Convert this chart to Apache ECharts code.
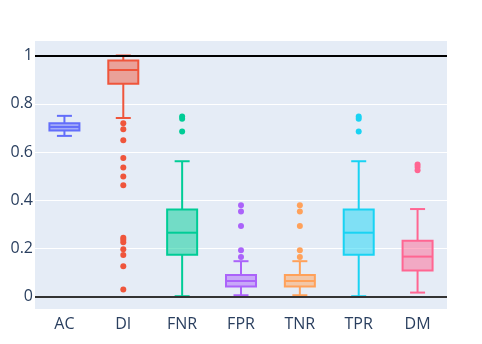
<!DOCTYPE html>
<html>
<head>
<meta charset="utf-8">
<script src="https://cdn.jsdelivr.net/npm/echarts@6/dist/echarts.min.js"></script>
<style>
  html, body { margin: 0; padding: 0; background: #fff; }
  #main { width: 482px; height: 344px; }
</style>
</head>
<body>
<div id="main"></div>
<script>
// categories and box statistics
var categories = ['AC', 'DI', 'FNR', 'FPR', 'TNR', 'TPR', 'DM'];
var whiskerLow  = [0.667, 0.741, 0.003, 0.007, 0.007, 0.003, 0.018];
var q1          = [0.689, 0.883, 0.175, 0.043, 0.043, 0.175, 0.109];
var median      = [0.704, 0.940, 0.266, 0.066, 0.066, 0.266, 0.167];
var q3          = [0.719, 0.979, 0.362, 0.091, 0.091, 0.362, 0.233];
var whiskerHigh = [0.750, 1.000, 0.562, 0.148, 0.148, 0.562, 0.364];
var outliers = [
  [],
  [0.719, 0.694, 0.649, 0.575, 0.536, 0.499, 0.463, 0.245, 0.237, 0.226, 0.197, 0.174, 0.127, 0.031],
  [0.747, 0.738, 0.685],
  [0.380, 0.354, 0.294, 0.193, 0.165],
  [0.380, 0.354, 0.294, 0.193, 0.165],
  [0.747, 0.738, 0.685],
  [0.548, 0.538, 0.525]
];
var yTicks = [0, 0.2, 0.4, 0.6, 0.8, 1];
var colors = ['#636efa', '#EF553B', '#00cc96', '#ab63fa', '#FFA15A', '#19d3f3', '#FF6692'];

var myChart = echarts.init(document.getElementById('main'));

var boxData = categories.map(function (c, i) {
  return [i, whiskerLow[i], q1[i], median[i], q3[i], whiskerHigh[i]];
});
var pointData = [];
outliers.forEach(function (arr, i) {
  arr.forEach(function (v) {
    pointData.push({ value: [i, v], itemStyle: { color: colors[i] } });
  });
});

function hexA(hex, a) {
  var n = parseInt(hex.slice(1), 16);
  return 'rgba(' + (n >> 16) + ',' + ((n >> 8) & 255) + ',' + (n & 255) + ',' + a + ')';
}

// box + whiskers drawn through the axis scales
function renderBox(params, api) {
  var i = api.value(0);
  var col = colors[i];
  var pLow = api.coord([i, api.value(1)]);
  var pQ1 = api.coord([i, api.value(2)]);
  var pMed = api.coord([i, api.value(3)]);
  var pQ3 = api.coord([i, api.value(4)]);
  var pHigh = api.coord([i, api.value(5)]);
  var x = pMed[0];
  var hw = 15, cw = 7.5;
  var ls = { stroke: col, lineWidth: 2, fill: null };
  return {
    type: 'group',
    children: [
      { type: 'line', shape: { x1: x, y1: pQ3[1], x2: x, y2: pHigh[1] }, style: ls },
      { type: 'line', shape: { x1: x, y1: pQ1[1], x2: x, y2: pLow[1] }, style: ls },
      { type: 'line', shape: { x1: x - cw, y1: pHigh[1], x2: x + cw, y2: pHigh[1] }, style: ls },
      { type: 'line', shape: { x1: x - cw, y1: pLow[1], x2: x + cw, y2: pLow[1] }, style: ls },
      { type: 'rect', shape: { x: x - hw, y: pQ3[1], width: hw * 2, height: pQ1[1] - pQ3[1] },
        style: { fill: hexA(col, 0.5), stroke: col, lineWidth: 2 } },
      { type: 'line', shape: { x1: x - hw, y1: pMed[1], x2: x + hw, y2: pMed[1] }, style: ls }
    ]
  };
}

var option = {
  animation: false,
  backgroundColor: '#fff',
  textStyle: { fontFamily: 'Open Sans' },
  grid: {
    left: 35, right: 35, top: 41, bottom: 35,
    show: true, backgroundColor: '#E5ECF6', borderWidth: 0
  },
  xAxis: {
    type: 'category',
    data: categories,
    axisLine: { show: false },
    axisTick: { show: false },
    axisLabel: { color: '#2a3f5f', fontSize: 16, margin: 7 },
    splitLine: { show: false }
  },
  yAxis: {
    type: 'value',
    min: -0.05,
    max: 1.06,
    axisLine: { show: false },
    axisTick: { show: false, customValues: yTicks },
    axisLabel: { color: '#2a3f5f', fontSize: 16, margin: 2, customValues: yTicks },
    splitLine: { show: true, lineStyle: { color: '#ffffff', width: 1 } }
  },
  series: [
    {
      type: 'custom',
      renderItem: renderBox,
      data: boxData,
      z: 3
    },
    {
      type: 'scatter',
      symbol: 'circle',
      symbolSize: 6,
      itemStyle: { opacity: 1 },
      data: pointData,
      z: 4,
      markLine: {
        silent: true,
        symbol: 'none',
        label: { show: false },
        data: [
          { yAxis: 1, lineStyle: { color: '#000', width: 2, type: 'solid' } },
          { yAxis: 0, lineStyle: { color: '#333', width: 2, type: 'solid' } }
        ]
      }
    }
  ]
};

myChart.setOption(option);
window.onresize = myChart.resize;
</script>
</body>
</html>
